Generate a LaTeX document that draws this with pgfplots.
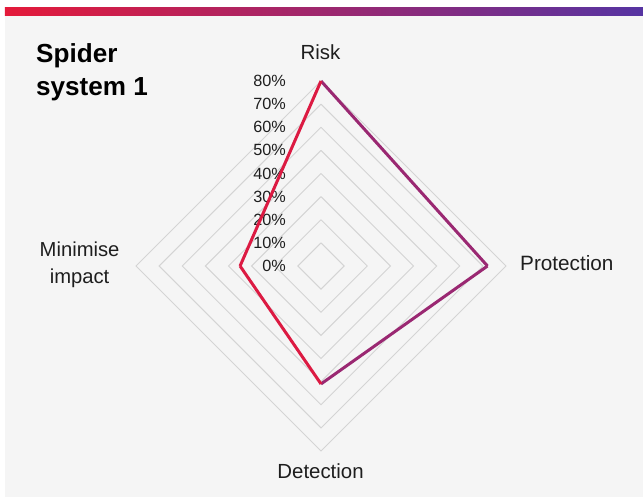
\documentclass[border=0pt]{standalone}
\usepackage{fontspec}
\setmainfont{Liberation Sans}
\usepackage{pgfplots}
\pgfplotsset{compat=1.18}
\definecolor{panel}{RGB}{245,245,245}
\definecolor{gridc}{RGB}{212,212,212}
\definecolor{barred}{RGB}{228,26,58}
\definecolor{barpurple}{RGB}{86,52,162}
\definecolor{txt}{RGB}{30,30,30}
\begin{document}
\begin{tikzpicture}
\begin{axis}[
  width=643bp, height=497bp, scale only axis,
  xmin=-138.81, xmax=139.24, ymin=-99.89, ymax=115.03,
  hide axis, clip=false,
  colormap={rp}{rgb255=(220,26,66) rgb255=(88,54,162)},
  point meta min=0, point meta max=72,
]
% background
\fill[white] (axis cs:-138.81,115.03) rectangle (axis cs:139.24,-99.89);
\fill[panel] (axis cs:-136.65,108.11) rectangle (axis cs:139.24,-99.89);
\shade[left color=barred, right color=barpurple] (axis cs:-136.65,111.57) rectangle (axis cs:139.24,108.11);
% grid diamonds
\addplot[gridc, line width=0.9bp, no marks] coordinates {(0,10)(10,0)(0,-10)(-10,0)(0,10)};
\addplot[gridc, line width=0.9bp, no marks] coordinates {(0,20)(20,0)(0,-20)(-20,0)(0,20)};
\addplot[gridc, line width=0.9bp, no marks] coordinates {(0,30)(30,0)(0,-30)(-30,0)(0,30)};
\addplot[gridc, line width=0.9bp, no marks] coordinates {(0,40)(40,0)(0,-40)(-40,0)(0,40)};
\addplot[gridc, line width=0.9bp, no marks] coordinates {(0,50)(50,0)(0,-50)(-50,0)(0,50)};
\addplot[gridc, line width=0.9bp, no marks] coordinates {(0,60)(60,0)(0,-60)(-60,0)(0,60)};
\addplot[gridc, line width=0.9bp, no marks] coordinates {(0,70)(70,0)(0,-70)(-70,0)(0,70)};
\addplot[gridc, line width=0.9bp, no marks] coordinates {(0,80)(80,0)(0,-80)(-80,0)(0,80)};
% tick labels
\pgfplotsinvokeforeach{0,10,20,30,40,50,60,70,80}{
  \node[anchor=east, inner sep=0pt, font=\fontsize{16.3}{18}\selectfont, text=txt] at (axis cs:-15.14,#1) {#1\%};
}
% data
\addplot[mesh, point meta=x, line width=3bp, line join=miter, no marks]
  coordinates {(0,80)(72,0)(0,-51)(-35,0)(0,80)};
% axis labels
\node[anchor=base, inner sep=0pt, font=\fontsize{20.5}{24}\selectfont, text=txt] at (axis cs:-0.2,89.4) {Risk};
\node[anchor=base west, inner sep=0pt, font=\fontsize{20.8}{24}\selectfont, text=txt] at (axis cs:86.05,-1.73) {Protection};
\node[anchor=base, inner sep=0pt, font=\fontsize{20.5}{24}\selectfont, text=txt] at (axis cs:-0.2,-91.8) {Detection};
\node[anchor=base, inner sep=0pt, font=\fontsize{20.3}{24}\selectfont, text=txt] at (axis cs:-104.4,4.02) {Minimise};
\node[anchor=base, inner sep=0pt, font=\fontsize{20.3}{24}\selectfont, text=txt] at (axis cs:-104.4,-7.78) {impact};
% title
\node[anchor=base west, inner sep=0pt, font=\bfseries\fontsize{26.2}{30}\selectfont, text=black] at (axis cs:-123.24,87.91) {Spider};
\node[anchor=base west, inner sep=0pt, font=\bfseries\fontsize{26.2}{30}\selectfont, text=black] at (axis cs:-123.24,73.64) {system 1};
\end{axis}
\end{tikzpicture}
\end{document}
